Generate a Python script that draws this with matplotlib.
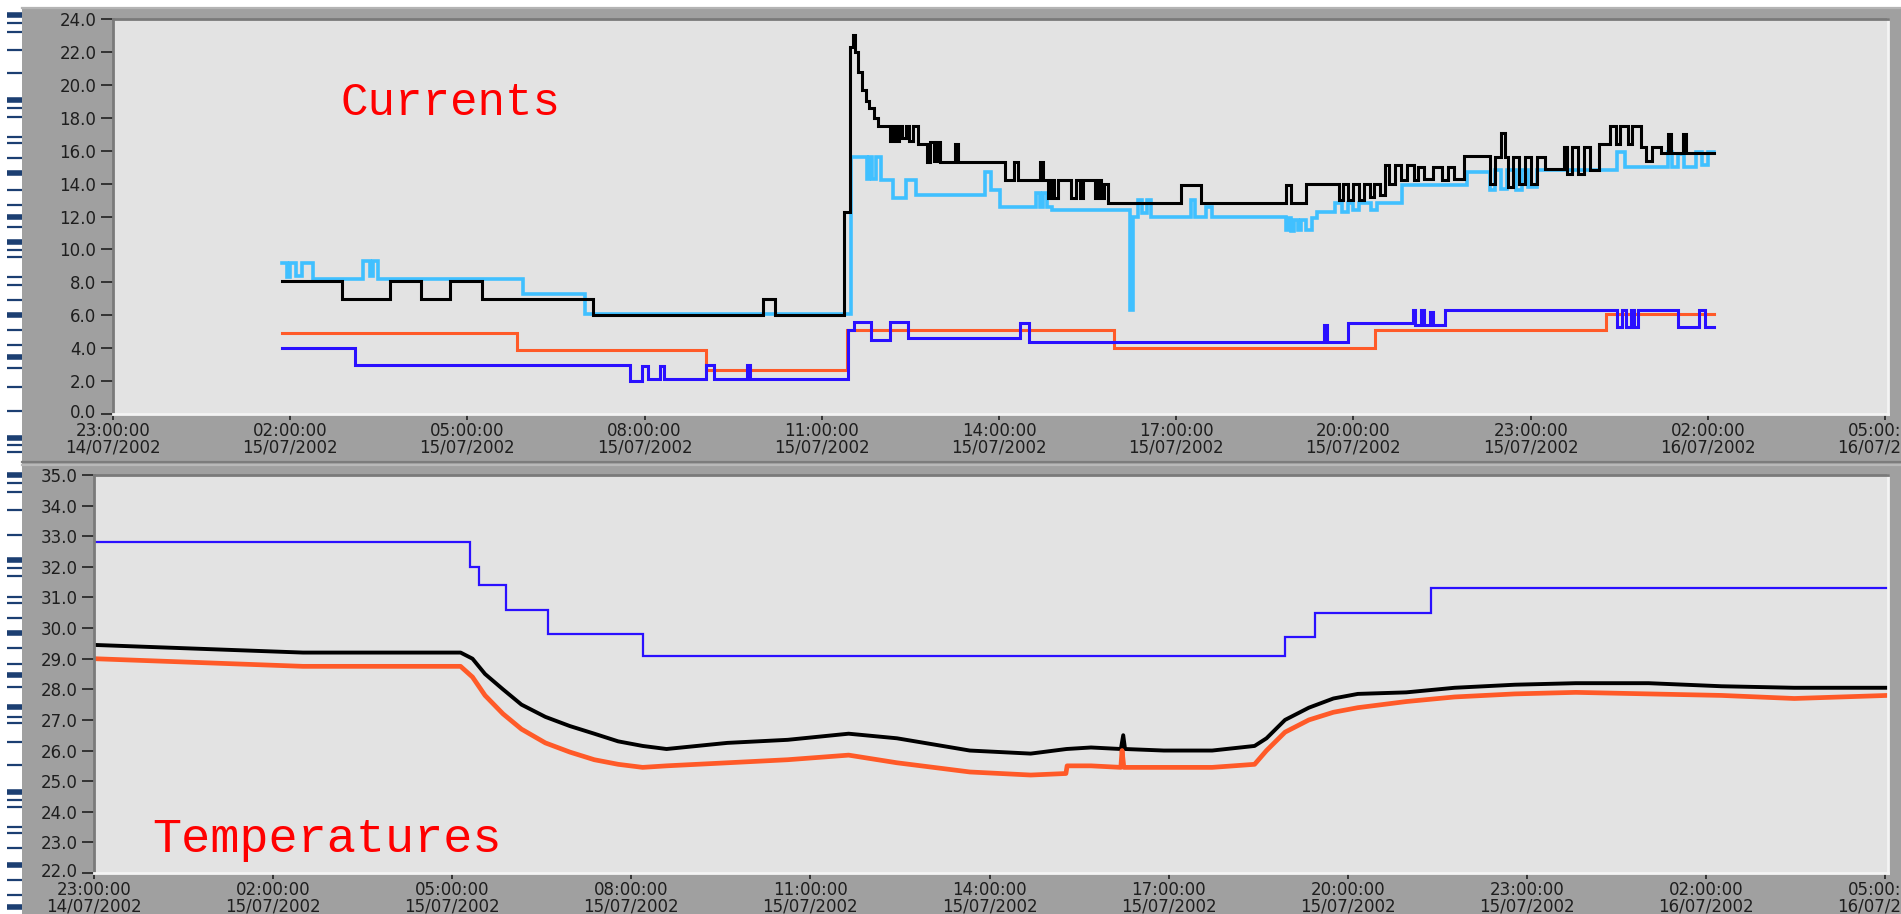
import numpy as np
import matplotlib.pyplot as plt
from matplotlib.patches import Rectangle
from matplotlib.lines import Line2D
from matplotlib.transforms import ScaledTranslation

W, H = 1901, 914

# time axis: hours after 23:00 on 14/07/2002
tick_hours = [0, 3, 6, 9, 12, 15, 18, 21, 24, 27, 30]
tick_labels = ["23:00:00\n14/07/2002", "02:00:00\n15/07/2002", "05:00:00\n15/07/2002",
               "08:00:00\n15/07/2002", "11:00:00\n15/07/2002", "14:00:00\n15/07/2002",
               "17:00:00\n15/07/2002", "20:00:00\n15/07/2002", "23:00:00\n15/07/2002",
               "02:00:00\n16/07/2002", "05:00:00\n16/07/2002"]

# ---- currents (step data) ----
t_blk = [2.86, 3.87, 4.69, 5.22, 5.71, 6.25, 8.13, 11.0, 11.2, 12.37, 12.47,
         12.53, 12.57, 12.62, 12.68, 12.74, 12.8, 12.88, 12.95, 13.15, 13.2, 13.25, 13.3,
         13.35, 13.42, 13.48, 13.55, 13.62, 13.7, 13.78, 13.83, 13.9, 13.95, 14.0, 14.25,
         14.3, 15.1, 15.26, 15.32, 15.7, 15.75, 15.83, 15.88, 15.93, 16.0, 16.22, 16.3,
         16.37, 16.42, 16.62, 16.68, 16.73, 16.78, 16.85, 18.08, 18.42, 19.85, 19.95,
         20.19, 20.75, 20.82, 20.9, 21.0, 21.1, 21.18, 21.28, 21.35, 21.45, 21.53, 21.6,
         21.7, 21.8, 21.9, 22.02, 22.1, 22.2, 22.35, 22.5, 22.6, 22.7, 22.87, 23.32, 23.4,
         23.5, 23.56, 23.62, 23.7, 23.8, 23.9, 24.0, 24.1, 24.24, 24.56, 24.62, 24.7, 24.8,
         24.9, 25.0, 25.15, 25.35, 25.45, 25.52, 25.65, 25.72, 25.87, 25.95, 26.05, 26.2,
         26.33, 26.38, 26.58, 26.63, 27.1]
i_blk = [8.1, 7.0, 8.1, 7.0, 8.1, 7.0, 6.0, 7.0, 6.0, 12.3, 22.3,
         23.0, 22.0, 20.8, 19.7, 19.0, 18.6, 18.0, 17.5, 16.6, 17.5, 16.6, 17.5,
         16.8, 17.5, 16.6, 17.5, 16.4, 16.4, 15.3, 16.5, 15.4, 16.5, 15.3, 16.4,
         15.3, 14.2, 15.3, 14.2, 15.3, 14.2, 13.1, 14.2, 13.1, 14.2, 13.1, 14.2,
         13.1, 14.2, 13.1, 14.2, 13.1, 14.0, 12.85, 13.9, 12.85, 13.9, 12.85,
         14.0, 13.0, 14.0, 13.0, 14.0, 13.0, 14.0, 13.2, 14.0, 13.3, 15.1, 14.0,
         15.1, 14.2, 15.1, 14.2, 15.0, 14.3, 15.0, 14.2, 15.0, 14.3, 15.65, 14.0, 15.6,
         17.05, 15.6, 13.8, 15.6, 14.0, 15.6, 14.0, 15.6, 14.9, 16.2, 14.6, 16.2, 14.6,
         16.2, 14.8, 16.4, 17.5, 16.4, 17.5, 16.4, 17.5, 16.2, 15.4, 16.2, 15.85,
         17.0, 15.85, 17.0, 15.85, 15.85]

t_cyan = [2.86, 2.95, 3.0, 3.1, 3.2, 3.38, 4.24, 4.35, 4.4, 4.49, 6.94, 7.99, 12.49,
          12.76, 12.8, 12.85, 12.91, 13.0, 13.2, 13.42, 13.6, 14.77, 14.87, 15.02, 15.63,
          15.7, 15.75, 15.82, 15.9, 17.22, 17.27, 17.36, 17.42, 17.5, 17.58, 18.25, 18.32,
          18.5, 18.6, 19.85, 19.9, 19.95, 20.0, 20.06, 20.12, 20.2, 20.3, 20.39, 20.68,
          20.8, 20.9, 21.0, 21.1, 21.3, 21.4, 21.82, 22.93, 23.32, 23.4, 23.5, 23.6, 23.75,
          23.85, 23.95, 24.1, 25.47, 25.6, 26.33, 26.4, 26.5, 26.6, 26.8, 26.9, 27.0, 27.1]
i_cyan = [9.2, 8.3, 9.2, 8.4, 9.2, 8.2, 9.3, 8.4, 9.3, 8.2, 7.3, 6.1, 15.6,
          14.3, 15.6, 14.3, 15.6, 14.2, 13.1, 14.2, 13.3, 14.7, 13.6, 12.55, 13.4,
          12.6, 13.4, 12.6, 12.4, 6.3, 12.0, 13.0, 12.2, 13.0, 11.95, 13.0, 11.95,
          12.6, 11.95, 11.2, 11.9, 11.1, 11.8, 11.2, 11.8, 11.2, 11.9, 12.25, 12.8,
          12.3, 12.8, 12.4, 12.8, 12.4, 12.8, 13.9, 14.7, 13.6, 14.8, 13.7, 14.8, 13.6,
          14.8, 13.8, 14.8, 15.9, 15.0, 15.9, 15.0, 15.8, 15.0, 15.9, 15.1, 15.9, 15.9]

t_blue = [2.86, 4.1, 8.75, 8.95, 9.05, 9.26, 9.32, 10.04, 10.17, 10.73, 10.79, 12.45,
          12.54, 12.84, 13.15, 13.46, 15.36, 15.51, 20.51, 20.56, 20.9, 22.0, 22.05, 22.15,
          22.2, 22.3, 22.35, 22.55, 25.47, 25.55, 25.62, 25.7, 25.75, 25.82, 26.5, 26.85,
          26.95, 27.1]
i_blue = [4.0, 3.0, 2.0, 2.9, 2.1, 2.9, 2.1, 3.0, 2.1, 3.0, 2.1, 5.1,
          5.6, 4.5, 5.6, 4.6, 5.5, 4.4, 5.4, 4.35, 5.5, 6.3, 5.4, 6.3,
          5.4, 6.2, 5.4, 6.3, 5.3, 6.3, 5.3, 6.3, 5.3, 6.3, 5.3, 6.3,
          5.3, 5.3]

t_red = [2.86, 6.84, 10.04, 12.43, 16.94, 21.37, 25.28, 27.1]
i_red = [4.9, 3.9, 2.7, 5.1, 4.0, 5.1, 6.1, 6.1]

# ---- temperatures ----
t_tb = [0, 3.5, 6.14, 6.34, 6.55, 6.85, 7.16, 7.56, 7.97, 8.38, 8.78, 9.19, 9.59, 10.1,
        10.61, 11.62, 12.64, 13.45, 14.06, 14.67, 15.69, 16.29, 16.7, 17.2, 17.24, 17.27,
        17.92, 18.73, 19.44, 19.64, 19.95, 20.35, 20.76, 21.17, 21.98, 22.79, 23.8, 24.82,
        26.04, 27.26, 28.48, 30.04]
temp_blk = [29.45, 29.2, 29.2, 29.0, 28.5, 28.0, 27.5, 27.1, 26.8, 26.55, 26.3, 26.15,
            26.05, 26.15, 26.25, 26.35, 26.55, 26.4, 26.2, 26.0, 25.9, 26.05, 26.1, 26.05,
            26.5, 26.05, 26.0, 26.0, 26.15, 26.4, 27.0, 27.4, 27.7, 27.85, 27.9, 28.05,
            28.15, 28.2, 28.2, 28.1, 28.05, 28.05]

t_tr = [0, 3.5, 6.14, 6.34, 6.55, 6.85, 7.16, 7.56, 7.97, 8.38, 8.78, 9.19, 9.59, 10.61,
        11.62, 12.64, 13.45, 14.06, 14.67, 15.69, 16.28, 16.3, 16.7, 17.2, 17.22, 17.25,
        17.92, 18.73, 19.44, 19.64, 19.95, 20.35, 20.76, 21.17, 21.98, 22.79, 23.8, 24.82,
        26.04, 27.26, 28.48, 30.04]
temp_red = [29.0, 28.75, 28.75, 28.4, 27.8, 27.2, 26.7, 26.25, 25.95, 25.7, 25.55, 25.45,
            25.5, 25.6, 25.7, 25.85, 25.6, 25.45, 25.3, 25.2, 25.25, 25.5, 25.5, 25.45,
            26.0, 25.45, 25.45, 25.45, 25.55, 26.0, 26.6, 27.0, 27.25, 27.4, 27.6, 27.75,
            27.85, 27.9, 27.85, 27.8, 27.7, 27.8]

t_tblue = [0, 6.3, 6.45, 6.9, 7.6, 9.2, 19.95, 20.45, 22.4, 30.04]
temp_blue = [32.8, 32.0, 31.4, 30.6, 29.8, 29.1, 29.7, 30.5, 31.3, 31.3]

# marks down the white strip on the left edge
strip_y = [15, 23, 32, 50, 73, 100, 108, 117, 137, 143, 158, 173, 190, 205, 217, 227,
           242, 250, 257, 277, 285, 300, 315, 330, 345, 357, 368, 387, 411, 438, 445, 452,
           475, 483, 492, 510, 535, 560, 568, 576, 597, 603, 618, 633, 648, 664, 675, 687,
           707, 717, 723, 742, 765, 792, 800, 807, 827, 833, 848, 865, 880, 895, 907]
strip_thick = [15, 100, 173, 217, 242, 315, 357, 438, 475, 560, 633, 675, 707, 792, 865, 907]


def frac(x0, y0, x1, y1):
    return [x0 / W, 1 - y1 / H, (x1 - x0) / W, (y1 - y0) / H]


fig = plt.figure(figsize=(W / 100, H / 100), dpi=100)
fig.patch.set_facecolor('#a0a0a0')

# white margins
fig.add_artist(Rectangle((0, 0), 22 / W, 1, transform=fig.transFigure,
                         facecolor='white', edgecolor='none'))
fig.add_artist(Rectangle((0, 1 - 7 / H), 1, 7 / H, transform=fig.transFigure,
                         facecolor='white', edgecolor='none'))
for y in strip_y:
    lw = 4.0 if y in strip_thick else 1.6
    fig.add_artist(Line2D([7 / W, 22 / W], [1 - y / H, 1 - y / H], transform=fig.transFigure,
                          color='#1c3f72', lw=lw, solid_capstyle='butt'))

# panel bevels
for y, c in [(8, '#b4b4b4'), (462, '#7c7c7c'), (465, '#b8b8b8')]:
    fig.add_artist(Line2D([22 / W, 1], [1 - y / H, 1 - y / H], transform=fig.transFigure,
                          color=c, lw=1.6))


def style(ax, ylo, yhi, ystep):
    ax.set_facecolor('#e3e3e3')
    ax.set_xlim(0, 30.05)
    ax.set_ylim(ylo, yhi)
    yt = np.arange(ylo, yhi + 0.01, ystep)
    ax.set_yticks(yt)
    ax.set_yticklabels([f'{v:.1f}' for v in yt])
    ax.set_xticks(tick_hours)
    ax.set_xticklabels(tick_labels, linespacing=0.95)
    for s in ('top', 'left'):
        ax.spines[s].set_color('#7a7a7a')
        ax.spines[s].set_linewidth(2)
    for s in ('bottom', 'right'):
        ax.spines[s].set_color('#f4f4f4')
        ax.spines[s].set_linewidth(2)
    ax.tick_params(axis='y', direction='out', length=9, width=1.3, color='#2a2a2a',
                   labelsize=12, labelcolor='#1e1e1e', pad=3)
    ax.tick_params(axis='x', direction='out', length=4, width=1.3, color='#2a2a2a',
                   labelsize=12, labelcolor='#1e1e1e', pad=1.5)


ax1 = fig.add_axes(frac(113, 19, 1888, 414))
style(ax1, 0, 24, 2)
kw = dict(where='post', solid_joinstyle='miter')
ax1.step(t_red, i_red, color='#ff5a28', lw=2.2, **kw)
ax1.step(t_blue, i_blue, color='#2a10ff', lw=2.2, **kw)
ax1.step(t_cyan, i_cyan, color='#40c0ff', lw=2.6, **kw)
ax1.step(t_blk, i_blk, color='black', lw=2.2, **kw)

ax2 = fig.add_axes(frac(94, 475, 1888, 873))
style(ax2, 22, 35, 1)
ax2.step(t_tblue, temp_blue, color='#2a10ff', lw=1.6, **kw)
ax2.plot(t_tb, temp_blk, color='black', lw=2.8)
ax2.plot(t_tr, temp_red, color='#ff5a28', lw=3.4)

# nudge the lowest value label up a little so it clears the first date label
lift = ScaledTranslation(0, 3 / 100, fig.dpi_scale_trans)
for ax in (ax1, ax2):
    lab = ax.get_yticklabels()[0]
    lab.set_transform(lab.get_transform() + lift)

fig.text(340 / W, 1 - 103 / H, 'Currents', family='Liberation Mono', size=33,
         color='red', va='center')
fig.text(152 / W, 1 - 840 / H, 'Temperatures', family='Liberation Mono', size=35,
         color='red', va='center')

fig.savefig('out.png', dpi=100, facecolor=fig.get_facecolor())
